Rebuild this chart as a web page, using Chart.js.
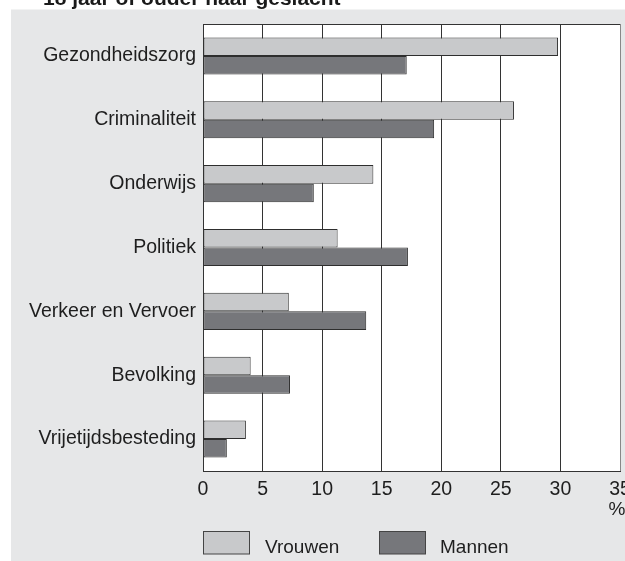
<!DOCTYPE html>
<html>
<head>
<meta charset="utf-8">
<script src="https://cdn.jsdelivr.net/npm/chart.js@4.4.1/dist/chart.umd.min.js"></script>
<style>
html,body{margin:0;padding:0;background:#fff;}
#wrap{position:relative;width:625px;height:561px;}
</style>
</head>
<body>
<div id="wrap"><canvas id="c" width="625" height="561"></canvas></div>
<script>
const categories = ["Gezondheidszorg","Criminaliteit","Onderwijs","Politiek","Verkeer en Vervoer","Bevolking","Vrijetijdsbesteding"];
const vrouwen = [29.8, 26.1, 14.3, 11.3, 7.2, 4.0, 3.6];
const mannen  = [17.1, 19.4, 9.3, 17.2, 13.7, 7.3, 2.0];
const seriesNames = ["Vrouwen","Mannen"];
const xTicks = [0,5,10,15,20,25,30,35];
const titleText = "18 jaar of ouder naar geslacht";
const unitText = "%";

const FONT = "'Liberation Sans', Arial, sans-serif";

const bgPlugin = {
  id: 'bg',
  beforeDraw(chart) {
    const ctx = chart.ctx;
    ctx.save();
    ctx.fillStyle = '#ffffff';
    ctx.fillRect(0,0,chart.width,chart.height);
    ctx.fillStyle = '#e6e7e8';
    ctx.fillRect(11,9.5,chart.width-11,chart.height-9.5);
    const a = chart.chartArea;
    ctx.fillStyle = '#ffffff';
    ctx.fillRect(a.left,a.top,a.right-a.left,a.bottom-a.top);
    ctx.fillStyle = '#1a1a1a';
    ctx.font = "bold 21px " + FONT;
    ctx.textAlign = 'left';
    ctx.textBaseline = 'alphabetic';
    ctx.fillText(titleText, 43, 4.5);
    ctx.restore();
  },
  afterDraw(chart) {
    const ctx = chart.ctx;
    const a = chart.chartArea;
    ctx.save();
    ctx.strokeStyle = '#333';
    ctx.lineWidth = 1;
    ctx.beginPath();
    ctx.moveTo(a.left, Math.round(a.top)+0.5);
    ctx.lineTo(a.right, Math.round(a.top)+0.5);
    ctx.stroke();
    ctx.fillStyle = '#1e1e1e';
    ctx.font = "19px " + FONT;
    ctx.textAlign = 'center';
    ctx.textBaseline = 'middle';
    ctx.fillText(unitText, 617, 510);
    const items = chart.data.datasets;
    const boxX = [203.5, 379.5];
    const textX = [265, 440];
    items.forEach((ds, i) => {
      ctx.fillStyle = ds.backgroundColor;
      ctx.fillRect(boxX[i], 531.5, 46, 22.5);
      ctx.strokeStyle = '#444';
      ctx.lineWidth = 1;
      ctx.strokeRect(boxX[i], 531.5, 46, 22.5);
      ctx.fillStyle = '#1e1e1e';
      ctx.font = "19px " + FONT;
      ctx.textAlign = 'left';
      ctx.textBaseline = 'middle';
      ctx.fillText(ds.label, textX[i], 548);
    });
    ctx.restore();
  }
};

new Chart(document.getElementById('c'), {
  type: 'bar',
  data: {
    labels: categories,
    datasets: [
      { label: seriesNames[0], data: vrouwen, backgroundColor: '#c8c9cb', borderColor: '#2e2e2e', borderWidth: 1, borderSkipped: false },
      { label: seriesNames[1], data: mannen, backgroundColor: '#76777b', borderColor: '#2e2e2e', borderWidth: 1, borderSkipped: false }
    ]
  },
  options: {
    indexAxis: 'y',
    responsive: false,
    animation: false,
    devicePixelRatio: 1,
    layout: { padding: { top: 24, right: 5, left: 0, bottom: 0 } },
    datasets: { bar: { categoryPercentage: 0.58, barPercentage: 1.0 } },
    plugins: { legend: { display: false }, tooltip: { enabled: false }, title: { display: false } },
    scales: {
      x: {
        min: 0, max: 35,
        afterBuildTicks(s) { s.ticks = xTicks.map(v => ({ value: v })); },
        afterFit(s) { s.height = 90; s.paddingRight = 0; s.paddingLeft = 0; },
        grid: { color: (c) => c.tick && c.tick.value === 35 ? '#888' : '#333', lineWidth: 1, drawTicks: false },
        border: { color: '#333', width: 1 },
        ticks: { color: '#1e1e1e', font: { family: FONT, size: 19.5 }, padding: 7 }
      },
      y: {
        afterFit(s) { s.width = 203; s.paddingTop = 0; s.paddingBottom = 0; },
        grid: { display: false, drawTicks: false },
        border: { color: '#333', width: 1 },
        ticks: { color: '#1e1e1e', font: { family: FONT, size: 19.5 }, padding: 7 }
      }
    }
  },
  plugins: [bgPlugin]
});
</script>
</body>
</html>
